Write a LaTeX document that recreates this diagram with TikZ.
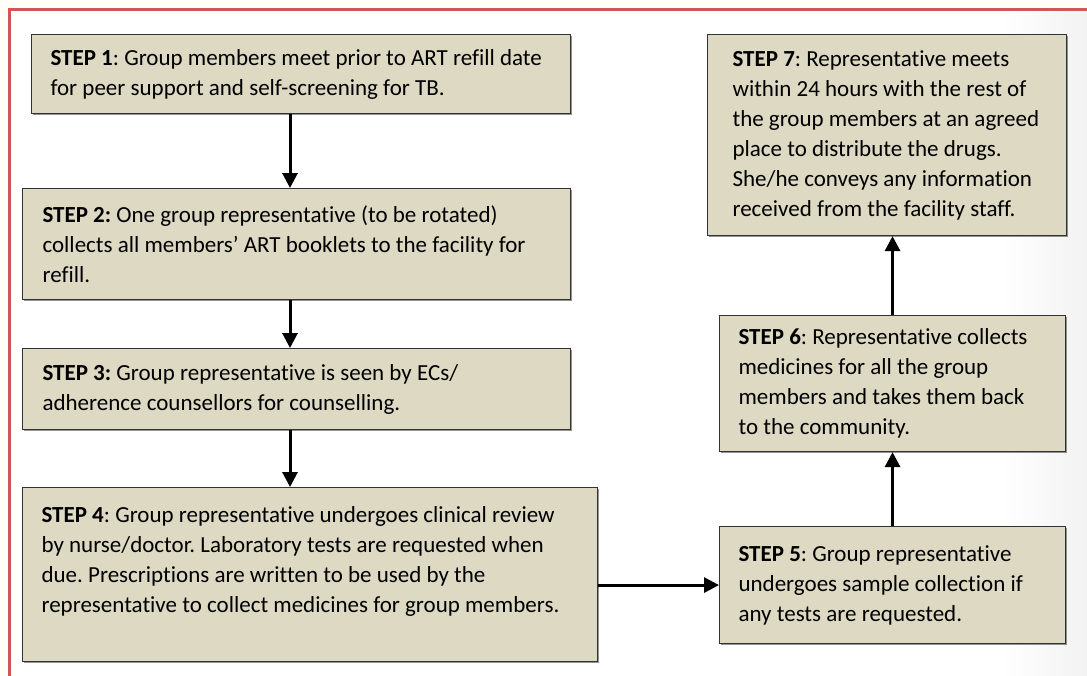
\documentclass[tikz,border=0pt]{standalone}
\usepackage{fontspec}
\setmainfont{Carlito}[Ligatures=NoCommon]
\usetikzlibrary{arrows.meta,shadows}
\definecolor{frameRed}{RGB}{205,88,86}
\definecolor{stepTan}{RGB}{221,217,195}
\definecolor{pageCream}{RGB}{255,254,247}
\tikzset{
  stepbox/.style={draw=black!80, line width=1.1pt, fill=stepTan, anchor=north west,
    align=flush left, inner ysep=0pt, font=\fontsize{23}{30}\selectfont\frenchspacing,
    drop shadow={shadow xshift=1.6pt, shadow yshift=-1.6pt, fill=black!60, opacity=0.7}},
  flow/.style={line width=3pt, -{Triangle[length=15pt,width=15pt]}}
}
\begin{document}
\begin{tikzpicture}[x=1pt,y=-1pt]
    \useasboundingbox (0,0) rectangle (1087,675);
    \clip (0,0) rectangle (1087,675);

    % Fondo y marco
    \fill[pageCream] (0,0) rectangle (1087,675);
    \fill[white] (9.5,9.5) rectangle (1100,700);
    \shade[left color=white, right color=black!5] (1000,11) rectangle (1087,675);
    \draw[frameRed, line width=3pt] (9.5,700) -- (9.5,9.5) -- (1100,9.5);

    % Pasos, columna izquierda
    \node[stepbox, minimum width=539pt, minimum height=79pt, text width=501pt, inner xsep=19pt] (s1) at (31,34)
        {\textbf{STEP 1}: Group members meet prior to ART refill date\\
         for peer support and self-screening for TB.};
    \node[stepbox, minimum width=548pt, minimum height=111pt, text width=508pt, inner xsep=20pt] (s2) at (22,188)
        {\textbf{STEP 2:} One group representative (to be rotated)\\
         collects all members’ ART booklets to the facility for\\
         refill.};
    \node[stepbox, minimum width=548pt, minimum height=81pt, text width=508pt, inner xsep=20pt] (s3) at (22,348)
        {\textbf{STEP 3:} Group representative is seen by ECs/\\
         adherence counsellors for counselling.};
    \node[stepbox, minimum width=575pt, minimum height=174pt, text width=537pt, inner xsep=19pt] (s4) at (22,487)
        {\textbf{STEP 4}: Group representative undergoes clinical review\\
         by nurse/doctor. Laboratory tests are requested when\\
         due. Prescriptions are written to be used by the\\
         representative to collect medicines for group members.\\
         \mbox{}};

    % Pasos, columna derecha
    \node[stepbox, minimum width=346pt, minimum height=117pt, text width=308pt, inner xsep=19pt] (s5) at (719,526)
        {\textbf{STEP 5}: Group representative\\
         undergoes sample collection if\\
         any tests are requested.};
    \node[stepbox, minimum width=346pt, minimum height=136pt, text width=308pt, inner xsep=19pt] (s6) at (719,315)
        {\textbf{STEP 6}: Representative collects\\
         medicines for all the group\\
         members and takes them back\\
         to the community.};
    \node[stepbox, minimum width=359pt, minimum height=201pt, text width=309pt, inner xsep=25pt] (s7) at (707,34)
        {\textbf{STEP 7}: Representative meets\\
         within 24 hours with the rest of\\
         the group members at an agreed\\
         place to distribute the drugs.\\
         She/he conveys any information\\
         received from the facility staff.};

    % Flechas
    \coordinate (lane) at (290,0);
    \draw[flow] (lane |- s1.south) -- (lane |- s2.north);
    \draw[flow] (lane |- s2.south) -- (lane |- s3.north);
    \draw[flow] (lane |- s3.south) -- (lane |- s4.north);
    \draw[flow] (s4.east |- s5.west) -- (s5.west);
    \draw[flow] (s5.north) -- (s6.south);
    \draw[flow] (s6.north) -- (s6.north |- s7.south);
\end{tikzpicture}
\end{document}
